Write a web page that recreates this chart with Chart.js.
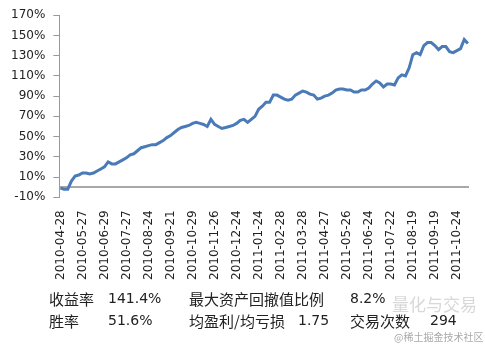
<!DOCTYPE html>
<html>
<head>
<meta charset="utf-8">
<script src="https://cdn.jsdelivr.net/npm/chart.js@4"></script>
<style>
  body { margin: 0; background: #fff; }
  #wrap { position: relative; width: 485px; height: 345px; overflow: hidden; }
  #c { position: absolute; left: 0; top: 0; }
  .t { position: absolute; white-space: nowrap; color: #222; }
  .zh { font-family: "Noto Sans CJK SC", sans-serif; font-size: 15px; line-height: 15px; }
  .num { font-family: "DejaVu Sans", sans-serif; font-size: 14px; line-height: 15px; }
</style>
</head>
<body>
<div id="wrap">
  <canvas id="c" width="485" height="291"></canvas>
  <span class="t zh" style="left:49px;top:291px">收益率</span>
  <span class="t num" style="left:108px;top:291px">141.4%</span>
  <span class="t zh" style="left:189px;top:291px">最大资产回撤值比例</span>
  <span class="t num" style="left:350px;top:291px">8.2%</span>
  <span class="t zh" style="left:49px;top:313px">胜率</span>
  <span class="t num" style="left:108px;top:313px">51.6%</span>
  <span class="t zh" style="left:189px;top:313px">均盈利/均亏损</span>
  <span class="t num" style="left:298px;top:313px">1.75</span>
  <span class="t zh" style="left:350px;top:313px">交易次数</span>
  <span class="t num" style="left:430px;top:313px">294</span>
  <span class="t zh" style="left:392px;top:296px;color:#d8d8d8;font-size:17px">量化与交易</span>
  <span class="t zh" style="left:394px;top:332px;color:#aaa;font-size:10px;line-height:10px">@稀土掘金技术社区</span>
</div>
<script>
// 日期标签（每 6 个数据点一个）
const dateLabels = ['2010-04-28', '2010-05-27', '2010-06-29', '2010-07-27', '2010-08-24',
    '2010-09-21', '2010-10-29', '2010-11-26', '2010-12-24', '2011-01-24', '2011-02-28',
    '2011-03-28', '2011-04-27', '2011-05-26', '2011-06-24', '2011-07-22', '2011-08-19',
    '2011-09-19', '2011-10-24'];
const pointsPerLabel = 6;

// 累计收益率 (%)
const returns = [
    -1, -2, -2, 6, 11, 12, 14, 14, 13, 14,
    16, 18, 20, 25, 23, 23, 25, 27, 29, 32,
    33, 36, 39, 40, 41, 42, 42, 44, 46, 49,
    51, 54, 57, 59, 60, 61, 63, 64, 63, 62,
    60, 67, 62, 60, 58, 59, 60, 61, 63, 66,
    67, 64, 67, 70, 77, 80, 84, 84, 91, 91,
    89, 87, 86, 87, 91, 93, 95, 94, 92, 91,
    87, 88, 90, 91, 93, 96, 97, 97, 96, 96,
    94, 94, 96, 96, 98, 102, 105, 103, 99, 102,
    102, 101, 108, 111, 110, 118, 131, 133, 131, 140,
    143, 143, 140, 136, 139, 139, 134, 133, 135, 137,
    146, 142
];

// y 轴刻度（0 只画横线，不写标签）
const yTicks = [-10, 0, 10, 30, 50, 70, 90, 110, 130, 150, 170];

const labelIdx = dateLabels.map((d, i) => i * pointsPerLabel);
const isZero = c => c.tick && c.tick.value === 0;

const ctx = document.getElementById('c').getContext('2d');
const chart = new Chart(ctx, {
    type: 'line',
    data: {
        datasets: [{
            data: returns.map((v, i) => ({ x: i, y: v })),
            borderColor: '#4a7ab8',
            borderWidth: 3,
            pointRadius: 0,
            tension: 0,
            fill: false
        }]
    },
    options: {
        responsive: false,
        animation: false,
        layout: { padding: { left: 3, right: 16, top: 14, bottom: 6 } },
        plugins: { legend: { display: false }, tooltip: { enabled: false } },
        scales: {
            x: {
                type: 'linear',
                min: -0.3,
                max: 111.3,
                grid: { display: false },
                border: { display: false },
                afterBuildTicks: s => { s.ticks = labelIdx.map(v => ({ value: v })); },
                ticks: {
                    autoSkip: false,
                    minRotation: 90,
                    maxRotation: 90,
                    padding: 5,
                    color: '#222',
                    font: { family: 'DejaVu Sans', size: 12 },
                    callback: v => dateLabels[v / pointsPerLabel]
                }
            },
            y: {
                min: -10,
                max: 170,
                afterBuildTicks: s => { s.ticks = yTicks.map(v => ({ value: v })); },
                border: { display: true, color: '#999', width: 1 },
                grid: {
                    drawOnChartArea: true,
                    color: c => isZero(c) ? '#a8a8a8' : 'rgba(0,0,0,0)',
                    lineWidth: c => isZero(c) ? 2 : 1,
                    tickColor: c => isZero(c) ? 'rgba(0,0,0,0)' : '#999',
                    tickWidth: 1,
                    tickLength: 6
                },
                ticks: {
                    padding: 8,
                    color: '#222',
                    font: { family: 'DejaVu Sans', size: 12 },
                    callback: v => v === 0 ? '' : v + '%'
                }
            }
        }
    }
});
</script>
</body>
</html>
